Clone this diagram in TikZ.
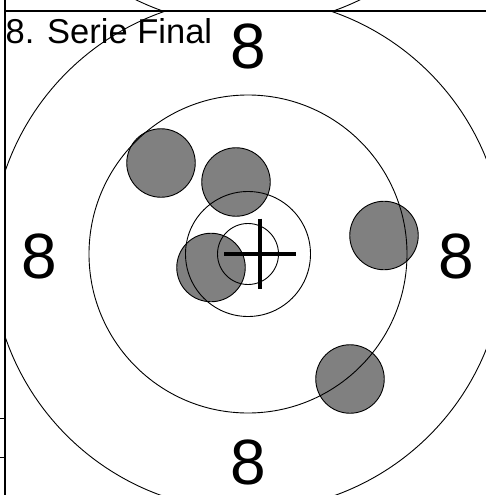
\documentclass[tikz,border=0pt]{standalone}
\usepackage{fontspec}
\setmainfont{Liberation Sans}
\begin{document}
\begin{tikzpicture}[x=1pt,y=-1pt,
  ring/.style={circle,draw=black,line width=0.9pt,inner sep=0pt},
  shot/.style={circle,draw=black,fill=shotgray,line width=0.9pt,inner sep=0pt,minimum size=68.5pt},
  bignum/.style={inner sep=0pt,anchor=base,text depth=0pt,font=\fontsize{64}{64}\selectfont},
  frame/.style={line width=1.4pt},
  cross/.style={line width=3.8pt}]
\definecolor{shotgray}{HTML}{808080}
\useasboundingbox (0,0) rectangle (486,495);
% frame lines
\coordinate (vt) at (5,0);
\coordinate (vb) at (5,495);
\coordinate (hl) at (5,11);
\coordinate (hr) at (486,11);
\draw[frame] (vt) -- (vb);
\draw[frame] (hl) -- (hr);
\coordinate (t1a) at (0,418); \coordinate (t1b) at (5,418);
\coordinate (t2a) at (0,457); \coordinate (t2b) at (5,457);
\draw[line width=0.9pt] (t1a) -- (t1b);
\draw[line width=0.9pt] (t2a) -- (t2b);
% upper panel ring (clipped)
\begin{scope}
\clip (5,0) rectangle (486,11);
\node[ring,minimum size=513pt] (upring) at (248,-231) {};
\end{scope}
\begin{scope}
\clip (5,11) rectangle (486,495);
% shots
\node[shot] (s1) at (161,163) {};
\node[shot] (s2) at (236,182) {};
\node[shot] (s3) at (384,235.5) {};
\node[shot] (s4) at (211,267.5) {};
\node[shot] (s5) at (350,379) {};
% rings
\node[ring,minimum size=513pt] (r4) at (248,254) {};
\node[ring,minimum size=318pt] (r3) at (248,254) {};
\node[ring,minimum size=125pt] (r2) at (248,254) {};
\node[ring,minimum size=61pt] (r1) at (248,254) {};
\end{scope}
% crosshair
\coordinate (chl) at (224,254);
\coordinate (chr) at (296,254);
\coordinate (cht) at (260,218.5);
\coordinate (chb) at (260,289);
\draw[cross] (chl) -- (chr);
\draw[cross] (cht) -- (chb);
% labels
\node[inner sep=0pt,anchor=base west,font=\fontsize{34.5}{34.5}\selectfont] (title) at (5.5,43.3) {8. Serie Final};
\node[bignum] (ntop) at (248.5,68) {8};
\node[bignum] (nleft) at (39.5,278.3) {8};
\node[bignum] (nright) at (456,278.3) {8};
\node[bignum] (nbot) at (248,484.3) {8};
\end{tikzpicture}
\end{document}
